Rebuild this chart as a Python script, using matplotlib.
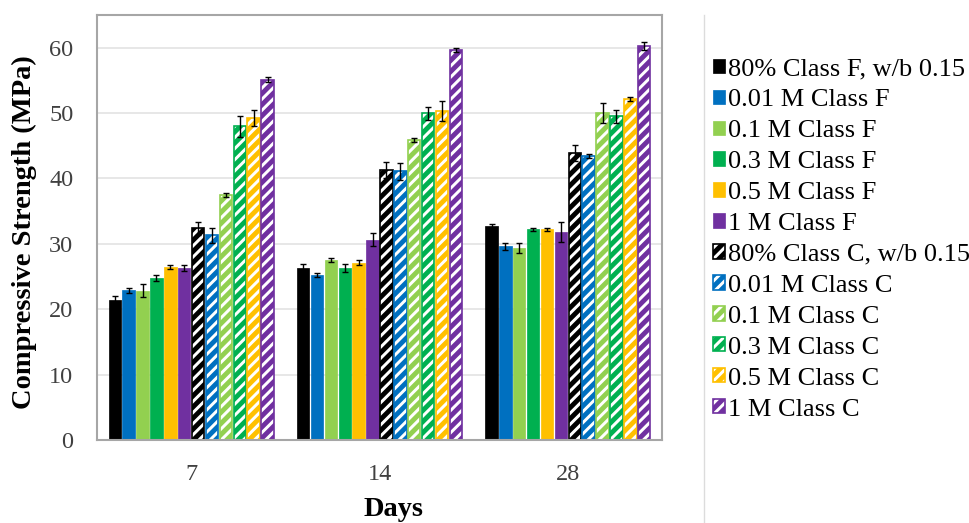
import matplotlib
matplotlib.use("Agg")
import matplotlib.pyplot as plt
import numpy as np

plt.rcParams['font.family'] = ['Liberation Serif', 'DejaVu Serif']
plt.rcParams['hatch.linewidth'] = 3.5

days = ["7", "14", "28"]
series = [
    "80% Class F, w/b 0.15", "0.01 M Class F", "0.1 M Class F", "0.3 M Class F",
    "0.5 M Class F", "1 M Class F",
    "80% Class C, w/b 0.15", "0.01 M Class C", "0.1 M Class C", "0.3 M Class C",
    "0.5 M Class C", "1 M Class C",
]
colors = ["#000000", "#0070C0", "#92D050", "#00B050", "#FFC000", "#7030A0"] * 2
hatched = [False] * 6 + [True] * 6

values = [
    [21.4, 26.3, 32.7],
    [22.9, 25.3, 29.6],
    [22.8, 27.6, 29.4],
    [24.8, 26.3, 32.2],
    [26.5, 27.1, 32.2],
    [26.3, 30.6, 31.8],
    [32.4, 41.3, 43.9],
    [31.3, 41.1, 43.4],
    [37.5, 45.9, 50.0],
    [48.0, 50.0, 49.5],
    [49.2, 50.3, 52.1],
    [55.1, 59.6, 60.2],
]
errors = [
    [0.6, 0.6, 0.4],
    [0.4, 0.3, 0.6],
    [1.0, 0.3, 0.8],
    [0.5, 0.6, 0.2],
    [0.3, 0.4, 0.2],
    [0.5, 1.0, 1.5],
    [1.0, 1.2, 1.2],
    [1.2, 1.3, 0.3],
    [0.3, 0.3, 1.5],
    [1.6, 1.0, 1.0],
    [1.2, 1.5, 0.3],
    [0.4, 0.3, 0.6],
]

fig = plt.figure(figsize=(9.7, 5.23), dpi=100)
ax = fig.add_axes([0.1, 0.1587, 0.5825, 0.8126])

x = np.arange(len(days))
step = 0.0737
width = 0.066
n = len(series)
handles = []
for i in range(n):
    pos = x + (i - (n - 1) / 2) * step
    if hatched[i]:
        b = ax.bar(pos, values[i], width, facecolor="white", edgecolor=colors[i],
                   hatch="///", linewidth=1.2, label=series[i], zorder=2)
    else:
        b = ax.bar(pos, values[i], width, color=colors[i], edgecolor=colors[i],
                   linewidth=0.5, label=series[i], zorder=2)
    ax.errorbar(pos, values[i], yerr=errors[i], fmt="none", ecolor="black",
                elinewidth=1.0, capsize=2.5, capthick=1.0, zorder=3)
    handles.append(b)

ax.set_xlim(-0.5, 2.5)
ax.set_ylim(0, 65)
ax.set_yticks(range(0, 61, 10))
ax.set_xticks(x)
ax.set_xticklabels(days)
ax.tick_params(axis="both", length=0, labelsize=17.5, colors="#404040")
ax.tick_params(axis="y", pad=17)
ax.tick_params(axis="x", pad=17)
ax.yaxis.grid(True, color="#e3e3e3", linewidth=1.2, zorder=0)
ax.set_axisbelow(True)
for s in ax.spines.values():
    s.set_color("#a6a6a6")
    s.set_linewidth(1.5)

ax.set_ylabel("Compressive Strength (MPa)", fontsize=20.5, fontweight="bold")
ax.yaxis.set_label_coords(-0.106, 0.489)
ax.set_xlabel("Days", fontsize=20.5, fontweight="bold")
ax.xaxis.set_label_coords(0.524, -0.133)

fig.add_artist(plt.Line2D([704 / 970, 704 / 970], [1 - 15 / 523, 0.0],
                          color="#dcdcdc", linewidth=1.0))

fig.legend(handles=handles, labels=series, loc="upper left",
           bbox_to_anchor=(0.735, 0.889), frameon=False, fontsize=19,
           handlelength=0.45, handleheight=0.45, handletextpad=0.12,
           labelspacing=0.34, borderaxespad=0, borderpad=0)

fig.savefig("out.png", dpi=100)
